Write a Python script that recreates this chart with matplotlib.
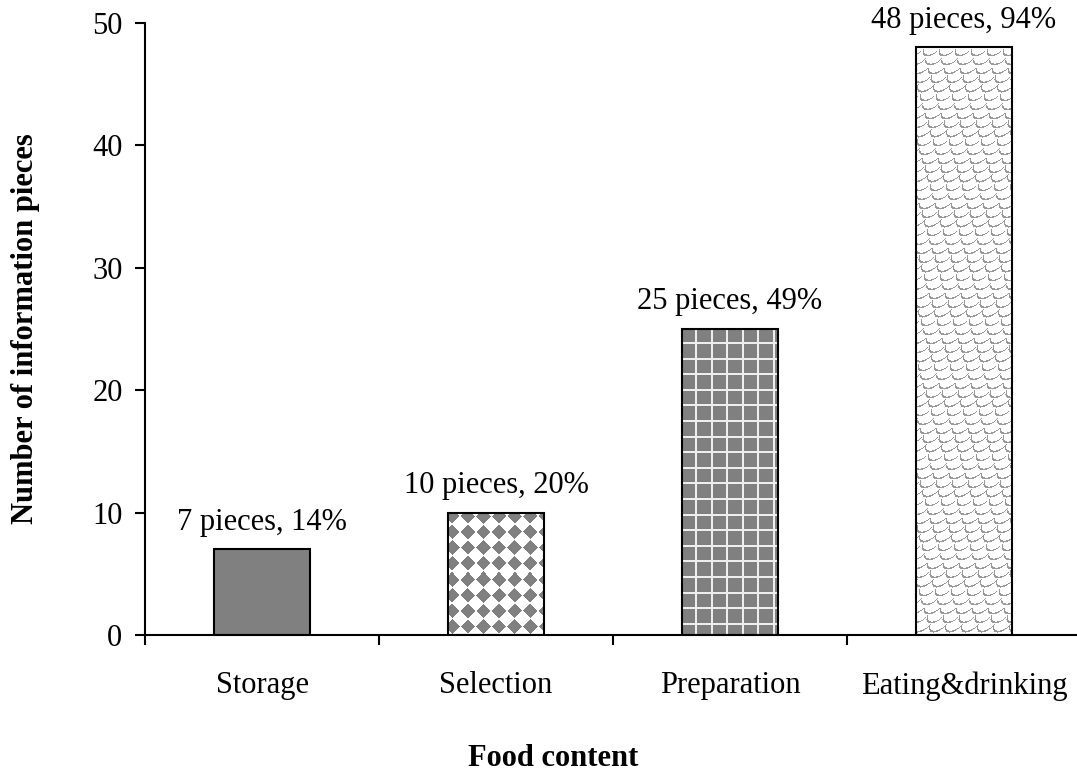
import numpy as np
import matplotlib.pyplot as plt
from matplotlib.ticker import FixedLocator

categories = ['Storage', 'Selection', 'Preparation', 'Eating&drinking']
pieces = [7, 10, 25, 48]
percents = [14, 20, 49, 94]

plt.rcParams['font.family'] = ['Liberation Serif', 'DejaVu Serif']
FS = 22


def texture(kind, h, w):
    yy, xx = np.mgrid[0:h, 0:w].astype(float)
    img = np.ones((h, w))
    if kind == 'solid':
        img[:] = 0.5
    elif kind == 'diamond':
        s = 15.6
        u = np.abs((xx + 4) % s - s / 2) + np.abs((yy + 4) % s - s / 2)
        img = np.where(u < s * 0.47, 0.5, 1.0)
    elif kind == 'grid':
        s = 15.6
        img[:] = 0.5
        line = ((xx + 3) % s < 2) | ((yy + 3) % s < 2)
        img[line] = 0.93
    elif kind == 'scale':
        r, dy = 8.0, 9.0
        xs = xx + 0.6 * yy
        hit = np.zeros((h, w), bool)
        for k in (-1, 0):
            j = np.floor(yy / dy) + k
            off = (j % 2) * r
            cx = np.round((xs - off) / (2 * r)) * 2 * r + off
            t = np.clip((xs - cx) / r, -1, 1)
            yc = j * dy + r * np.sqrt(1 - t ** 2)
            hit |= np.abs(yy - yc) < 0.9
        img = np.where(hit, 0.6, 1.0)
    return img


fig = plt.figure(figsize=(10.77, 7.75), dpi=100)
ax = fig.add_axes([145 / 1077, 140 / 775, 936 / 1077, 612 / 775])

x = np.arange(len(categories))
bars = ax.bar(x, pieces, width=0.41, facecolor='none', edgecolor='black',
              linewidth=1.5, zorder=3)
ax.set_xlim(-0.5, 3.5)
ax.set_ylim(0, 50)
fig.canvas.draw()

kinds = ['solid', 'diamond', 'grid', 'scale']
for bar, kind in zip(bars, kinds):
    bb = bar.get_bbox()
    p0 = ax.transData.transform((bb.x0, bb.y0))
    p1 = ax.transData.transform((bb.x1, bb.y1))
    w = int(round(p1[0] - p0[0]))
    h = int(round(p1[1] - p0[1]))
    im = ax.imshow(texture(kind, h, w), cmap='gray', vmin=0, vmax=1,
                   extent=(bb.x0, bb.x1, bb.y0, bb.y1), aspect='auto',
                   interpolation='nearest', zorder=2)
    im.set_clip_path(bar)

for xi, n, pct in zip(x, pieces, percents):
    ax.annotate(f'{n} pieces, {pct}%', (xi, n), xytext=(0, 9),
                textcoords='offset points', ha='center', va='bottom',
                fontsize=FS)

ax.set_xticks(x)
ax.set_xticklabels(categories, fontsize=FS)
ax.xaxis.set_minor_locator(FixedLocator([-0.5, 0.5, 1.5, 2.5, 3.5]))
ax.tick_params(axis='x', which='major', length=0, pad=26)
ax.tick_params(axis='x', which='minor', length=7.2, width=1.5, direction='out')
ax.set_yticks(range(0, 51, 10))
ax.tick_params(axis='y', length=7.2, width=1.5, direction='out', pad=9,
               labelsize=FS)

for side in ['top', 'right']:
    ax.spines[side].set_visible(False)
for side in ['left', 'bottom']:
    ax.spines[side].set_linewidth(1.5)

ax.set_xlabel('Food content', fontsize=FS, fontweight='bold')
ax.xaxis.set_label_coords(0.436, -0.178)
ax.set_ylabel('Number of information pieces', fontsize=FS, fontweight='bold')
ax.yaxis.set_label_coords(-0.112, 0.5)

fig.savefig('out.png', dpi=100)
